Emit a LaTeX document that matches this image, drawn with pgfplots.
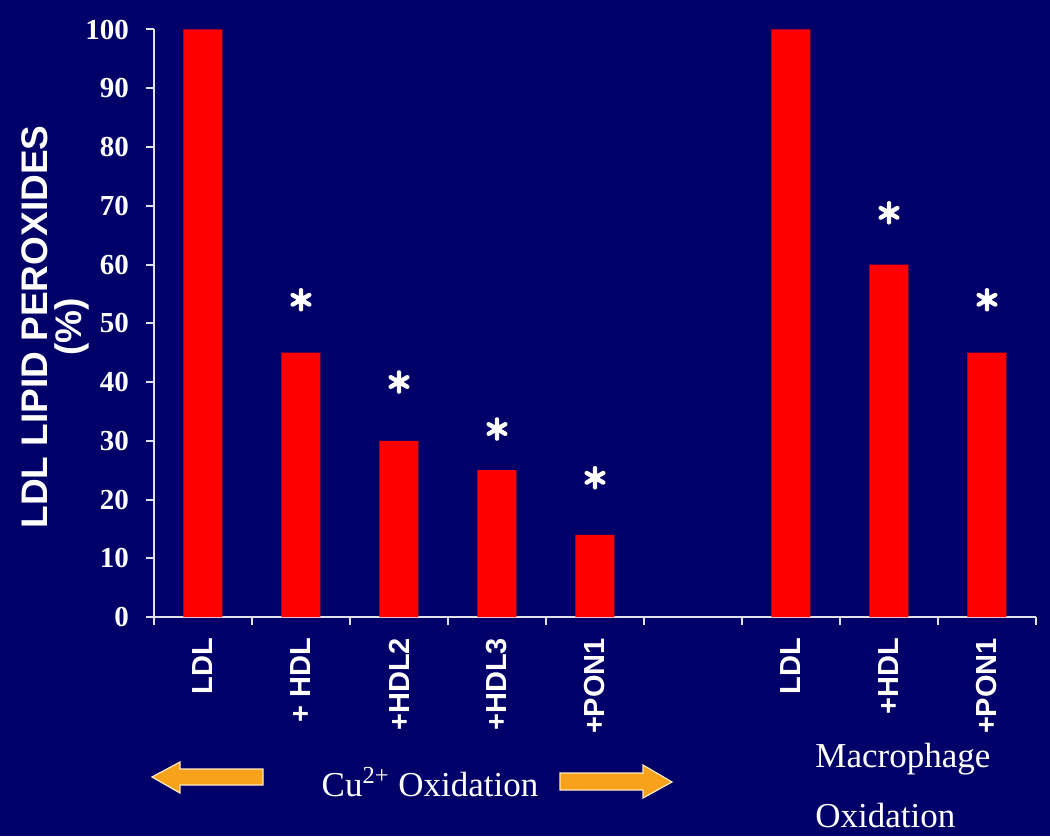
\documentclass[border=0pt]{standalone}
\usepackage{fontspec}
\setmainfont{Liberation Serif}
\newfontfamily\arialf{Liberation Sans}
\usepackage{pgfplots}
\pgfplotsset{compat=1.18}
\definecolor{bgcol}{RGB}{0,0,104}
\definecolor{axiscol}{RGB}{225,225,235}
\definecolor{arroworange}{RGB}{248,162,28}
\definecolor{arrowedge}{RGB}{255,235,190}
\begin{document}
\begin{tikzpicture}
\fill[bgcol] (-77pt,-109.5pt) rectangle (448pt,308.5pt);
\begin{axis}[
  at={(0,0)}, anchor=south west,
  scale only axis, width=441pt, height=293.75pt,
  xmin=-0.5, xmax=8.5, ymin=0, ymax=100,
  axis x line*=bottom, axis y line*=left,
  axis line style={draw=axiscol, line width=1pt, -},
  tick align=outside,
  major tick length=4pt, minor tick length=4pt,
  xtick={0,...,8},
  xticklabels={LDL,{+ HDL},+HDL2,+HDL3,+PON1,{},LDL,+HDL,+PON1},
  minor xtick={-0.5,0.5,...,8.5},
  major x tick style={draw=none},
  minor x tick style={draw=axiscol, line width=1pt},
  ytick={0,10,...,100},
  major y tick style={draw=axiscol, line width=1pt},
  /pgf/number format/assume math mode=true,
  yticklabel style={font=\bfseries\fontsize{14.5}{16}\selectfont, text=white, xshift=-5pt},
  xticklabel style={rotate=90, anchor=east, font=\arialf\bfseries\fontsize{14.5}{16}\selectfont, text=white, xshift=-3pt},
  ylabel={LDL LIPID PEROXIDES\\(\%)},
  ylabel style={align=center, font=\arialf\bfseries\fontsize{18.5}{17}\selectfont, text=white,
    at={(axis description cs:-0.1122,0.4936)}, anchor=center},
  clip=false,
]
\addplot[ybar, bar width=19.5pt, fill=red, draw=none]
  coordinates {(0,100) (1,45) (2,30) (3,25) (4,14) (6,100) (7,60) (8,45)};
\addplot[only marks, mark=asterisk, mark size=4.8pt,
  mark options={line width=2.2pt, line cap=round, draw=white}]
  coordinates {(1,54) (2,40) (3,32) (4,23.7) (7,68.8) (8,54)};
\end{axis}
% arrows
\filldraw[fill=arroworange, draw=arrowedge, line width=0.6pt]
  (-1pt,-80pt) -- (13pt,-72.5pt) -- (13pt,-76pt) -- (54.5pt,-76pt) -- (54.5pt,-84pt)
  -- (13pt,-84pt) -- (13pt,-88pt) -- cycle;
\filldraw[fill=arroworange, draw=arrowedge, line width=0.6pt]
  (259pt,-82.5pt) -- (244.5pt,-74pt) -- (244.5pt,-78pt) -- (203pt,-78pt) -- (203pt,-86.5pt)
  -- (244.5pt,-86.5pt) -- (244.5pt,-90.5pt) -- cycle;
\node[anchor=base, text=white, font=\fontsize{17.5}{20}\selectfont, inner sep=0pt]
  at (138pt,-89.5pt) {Cu\textsuperscript{2+} Oxidation};
\node[anchor=base west, text=white, font=\fontsize{17.5}{20}\selectfont, inner sep=0pt]
  at (330.5pt,-75pt) {Macrophage};
\node[anchor=base west, text=white, font=\fontsize{17.5}{20}\selectfont, inner sep=0pt]
  at (330.5pt,-105pt) {Oxidation};
\pgfresetboundingbox
\useasboundingbox (-77pt,-109.5pt) rectangle (448pt,308.5pt);
\end{tikzpicture}
\end{document}
